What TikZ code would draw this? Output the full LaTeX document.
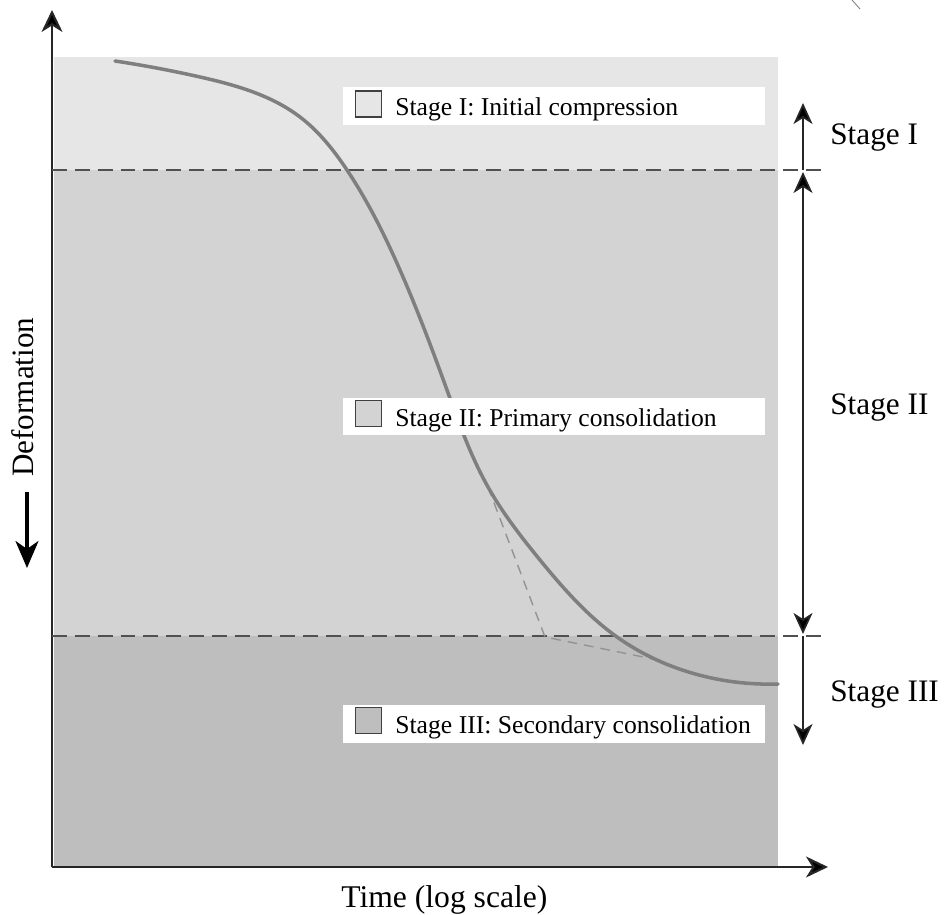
\documentclass[tikz,border=0pt]{standalone}
\usepackage{fontspec}
\setmainfont{Liberation Serif}
\usetikzlibrary{arrows.meta,positioning,hobby}
\definecolor{stageone}{HTML}{E6E6E6}
\definecolor{stagetwo}{HTML}{D3D3D3}
\definecolor{stagethree}{HTML}{BEBEBE}
\definecolor{curvegray}{HTML}{7F7F7F}
\definecolor{linegray}{HTML}{505050}

\begin{document}
\begin{tikzpicture}[x=0.02cm, y=-0.02cm,
    axistip/.tip={Stealth[length=4.4mm,width=4.2mm,inset=1.3mm,fill=black]},
    axis/.style={line width=1.2pt, draw=black!85, -axistip},
    border/.style={line width=1.2pt, dash pattern=on 8.5pt off 4.5pt, draw=linegray},
    tangent/.style={line width=0.8pt, dash pattern=on 5.5pt off 4pt, draw=gray!85},
    legbox/.style={fill=white, minimum width=8.44cm, minimum height=0.76cm, anchor=west, inner sep=0pt},
    swatch/.style={draw=black!75, line width=0.9pt, minimum size=0.52cm, inner sep=0pt},
    legtext/.style={anchor=base west, inner sep=0pt, font=\fontsize{14.6}{17}\selectfont},
    stagetext/.style={anchor=base west, inner sep=0pt, font=\fontsize{17.8}{20}\selectfont},
    spantip/.tip={Stealth[length=4.2mm,width=3.8mm,inset=1.2mm,fill=black]},
    span/.style={line width=1pt, draw=black!85, -spantip}]
    \useasboundingbox (0,0) rectangle (944,915);

    % bands of the three stages
    \fill[stageone] (54,57) rectangle (778,170);
    \fill[stagetwo] (54,170) rectangle (778,636);
    \fill[stagethree] (54,636) rectangle (778,867);

    % axes
    \coordinate (O) at (52,867);
    \coordinate (Ytip) at (52,10);
    \coordinate (Xtip) at (828,867);
    \draw[axis] (O) -- (Ytip);
    \draw[axis] (O) -- (Xtip);

    % limits between the stages
    \coordinate (L1) at (52,170);
    \coordinate (R1) at (823,170);
    \coordinate (L2) at (52,636);
    \coordinate (R2) at (823,636);
    \draw[border] (L1) -- (R1);
    \draw[border] (L2) -- (R2);

    % tangents of the curve
    \coordinate (T1) at (488,487);
    \coordinate (T2) at (545,637);
    \coordinate (T3) at (653,659);
    \draw[tangent] (T1) -- (T2) -- (T3);

    % deformation curve
    \draw[curvegray, line width=2pt, line cap=round, use Hobby shortcut]
        (115,61) .. (200,77) .. (300,117) .. (347,170) .. (400,270) .. (447,390)
        .. (488,487) .. (540,560) .. (617,637) .. (707,677) .. (778,684);

    % legend
    \node[legbox] (boxI) at (343,106) {};
    \node[swatch, fill=stageone] (swI) at (368.5,104) {};
    \node[legtext] (legI) at (395,116) {Stage I: Initial compression};

    \node[legbox] (boxII) at (343,416.5) {};
    \node[swatch, fill=stagetwo] (swII) at (368.5,413.5) {};
    \node[legtext] (legII) at (395,427) {Stage II: Primary consolidation};

    \node[legbox] (boxIII) at (343,724) {};
    \node[swatch, fill=stagethree] (swIII) at (368.5,720.5) {};
    \node[legtext] (legIII) at (395,733) {Stage III: Secondary consolidation};

    % spans on the right
    \coordinate (SIa) at (803,170);
    \coordinate (SIb) at (803,103);
    \coordinate (SIIa) at (803,172);
    \coordinate (SIIb) at (803,634);
    \coordinate (SIIIa) at (803,636);
    \coordinate (SIIIb) at (803,745);
    \draw[span] (SIa) -- (SIb);
    \draw[span, spantip-spantip] (SIIa) -- (SIIb);
    \draw[span] (SIIIa) -- (SIIIb);

    \node[stagetext] (stI) at (830,145) {Stage I};
    \node[stagetext] (stII) at (830,415) {Stage II};
    \node[stagetext] (stIII) at (830,702) {Stage III};

    % axis labels
    \node[rotate=90, anchor=base west, inner sep=0pt, font=\fontsize{17.7}{20}\selectfont] (ylab) at (33,477) {Deformation};
    \coordinate (Da) at (27,492);
    \coordinate (Db) at (27,568);
    \draw[line width=1.8pt, -{Stealth[length=5.4mm,width=4.6mm,inset=1.6mm]}] (Da) -- (Db);
    \node[anchor=base west, inner sep=0pt, font=\fontsize{18}{20}\selectfont] (xlab) at (341,907) {Time (log scale)};

    % scrap of a line in the corner
    \coordinate (Ca) at (852,0);
    \coordinate (Cb) at (860,9);
    \draw[gray, line width=0.5pt] (Ca) -- (Cb);
\end{tikzpicture}
\end{document}
